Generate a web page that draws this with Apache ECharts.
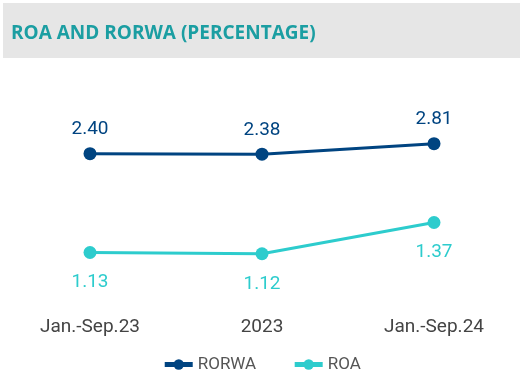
<!DOCTYPE html>
<html><head><meta charset="utf-8">
<script src="https://cdn.jsdelivr.net/npm/echarts@6/dist/echarts.min.js"></script>
<style>html,body{margin:0;padding:0;background:#fff}#c{width:523px;height:385px}</style>
</head><body><div id="c"></div>
<script>
const categories = ['Jan.-Sep.23', '2023', 'Jan.-Sep.24'];
const rorwa = [2.40, 2.38, 2.81];
const roa = [1.13, 1.12, 1.37];
const titleText = 'ROA AND RORWA (PERCENTAGE)';

const chart = echarts.init(document.getElementById('c'), null, {renderer: 'canvas'});
chart.setOption({
  animation: false,
  graphic: [{type: 'rect', shape: {x: 3, y: 3, width: 517, height: 55}, style: {fill: '#e6e6e6'}, z: -1}],
  title: {text: titleText, left: 6, top: 19, textStyle: {color: '#1b9ea2', fontSize: 19, fontWeight: 'bold', fontFamily: 'Open Sans'}},
  legend: {bottom: 7, left: 'center', itemGap: 36, itemWidth: 28, itemHeight: 13,
    lineStyle: {width: 5},
    textStyle: {color: '#555', fontSize: 17, fontFamily: 'Roboto'},
    data: ['RORWA', 'ROA']},
  grid: {left: 4, right: 3, top: 100, bottom: 85},
  xAxis: {type: 'category', data: categories, boundaryGap: true,
    axisLine: {show: false}, axisTick: {show: false},
    axisLabel: {color: '#444', fontSize: 19, margin: 18, fontFamily: 'Roboto'}},
  yAxis: [
    {type: 'value', min: -3.6, max: 4.6, show: false, splitLine: {show: false}},
    {type: 'value', min: 0.75, max: 2.35, show: false, splitLine: {show: false}}
  ],
  series: [
    {name: 'RORWA', type: 'line', yAxisIndex: 0, data: rorwa, symbol: 'circle', symbolSize: 13,
      lineStyle: {width: 3, color: '#004481'}, itemStyle: {color: '#004481'},
      label: {show: true, position: 'top', distance: 8, color: '#004481', fontSize: 19, fontFamily: 'Roboto', formatter: p => p.value.toFixed(2)}},
    {name: 'ROA', type: 'line', yAxisIndex: 1, data: roa, symbol: 'circle', symbolSize: 13,
      lineStyle: {width: 3, color: '#2dcccd'}, itemStyle: {color: '#2dcccd'},
      label: {show: true, position: 'bottom', distance: 14, color: '#2dcccd', fontSize: 19, fontFamily: 'Roboto', formatter: p => p.value.toFixed(2)}}
  ]
});
</script></body></html>
